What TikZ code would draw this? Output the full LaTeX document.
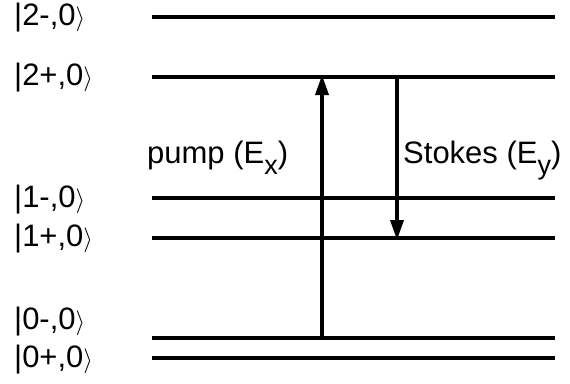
\documentclass[tikz,border=0pt]{standalone}
\usepackage{fontspec}
\setmainfont{Liberation Sans}
\usetikzlibrary{arrows.meta}
\begin{document}
\begin{tikzpicture}[x=1pt,y=-1pt,
  level/.style={line width=4pt},
  trans/.style={line width=3.5pt,-{Triangle[width=13pt,length=20pt]}},
  lbl/.style={anchor=west,inner sep=0pt,font=\fontsize{31}{34}\selectfont},
  txt/.style={anchor=base west,inner sep=0pt,font=\fontsize{31}{34}\selectfont}]
\useasboundingbox (0,0) rectangle (570,383);
% levels
\coordinate (a1) at (152,17);  \coordinate (a2) at (555,17);
\coordinate (b1) at (152,77);  \coordinate (b2) at (555,77);
\coordinate (c1) at (152,198); \coordinate (c2) at (555,198);
\coordinate (d1) at (152,238); \coordinate (d2) at (555,238);
\coordinate (e1) at (152,338); \coordinate (e2) at (555,338);
\coordinate (f1) at (152,358); \coordinate (f2) at (555,358);
\draw[level] (a1) -- (a2);
\draw[level] (b1) -- (b2);
\draw[level] (c1) -- (c2);
\draw[level] (d1) -- (d2);
\draw[level] (e1) -- (e2);
\draw[level] (f1) -- (f2);
% labels
\node[lbl] (la) at (14,18) {|2-,0$\rangle$};
\node[lbl] (lb) at (14,78) {|2+,0$\rangle$};
\node[lbl] (lc) at (14,200) {|1-,0$\rangle$};
\node[lbl] (ld) at (14,239) {|1+,0$\rangle$};
\node[lbl] (le) at (14,322) {|0-,0$\rangle$};
\node[lbl] (lf) at (14,360) {|0+,0$\rangle$};
% transitions
\coordinate (p0) at (322,338); \coordinate (p1) at (322,75);
\coordinate (s0) at (397,77);  \coordinate (s1) at (397,240);
\draw[trans] (p0) -- (p1);
\draw[trans] (s0) -- (s1);
\node[txt] (pump) at (147,163) {pump (E\raisebox{-0.36em}{\fontsize{27}{27}\selectfont x})};
\node[txt] (stokes) at (403,163) {Stokes (E\raisebox{-0.36em}{\fontsize{27}{27}\selectfont y})};
\end{tikzpicture}
\end{document}
